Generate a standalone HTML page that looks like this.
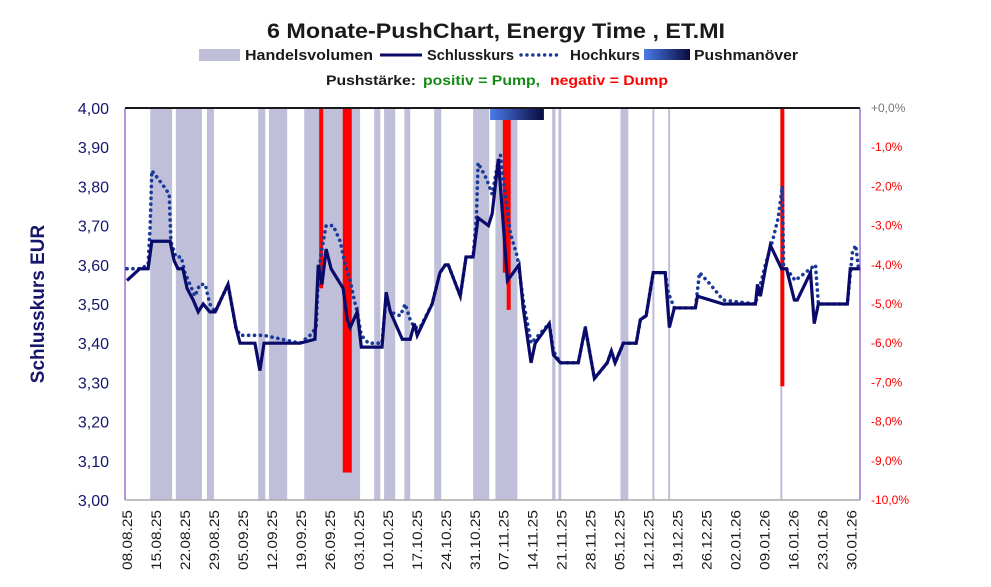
<!DOCTYPE html>
<html><head><meta charset="utf-8"><style>
html,body{margin:0;padding:0;background:#fff;}
svg{display:block;font-family:"Liberation Sans",sans-serif;}
</style></head><body>
<svg id="chart" width="991" height="587" viewBox="0 0 991 587">
<g id="legend">
<text x="496" y="38" text-anchor="middle" font-size="21" font-weight="bold" fill="#1a1a1a" textLength="458" lengthAdjust="spacingAndGlyphs">6 Monate-PushChart, Energy Time , ET.MI</text>
<rect x="199" y="49" width="41" height="12" fill="#bfbfda"/>
<text x="245" y="60" font-size="15" font-weight="bold" fill="#1a1a1a" textLength="128" lengthAdjust="spacingAndGlyphs">Handelsvolumen</text>
<line x1="380" y1="55" x2="422" y2="55" stroke="#0a0a6a" stroke-width="3"/>
<text x="427" y="60" font-size="15" font-weight="bold" fill="#1a1a1a" textLength="87" lengthAdjust="spacingAndGlyphs">Schlusskurs</text>
<line x1="521" y1="55" x2="562" y2="55" stroke="#1a3a9a" stroke-width="3.4" stroke-dasharray="0.1 5.8" stroke-linecap="round"/>
<text x="570" y="60" font-size="15" font-weight="bold" fill="#1a1a1a" textLength="70" lengthAdjust="spacingAndGlyphs">Hochkurs</text>
<defs><linearGradient id="pg" x1="0" x2="1"><stop offset="0" stop-color="#4a7be8"/><stop offset="1" stop-color="#0a0a40"/></linearGradient></defs>
<rect x="644" y="49" width="46" height="11" fill="url(#pg)"/>
<text x="694" y="60" font-size="15" font-weight="bold" fill="#1a1a1a" textLength="104" lengthAdjust="spacingAndGlyphs">Pushmanöver</text>
<text x="326" y="85" font-size="14" font-weight="bold" fill="#1a1a1a" textLength="90" lengthAdjust="spacingAndGlyphs">Pushstärke:</text>
<text x="423" y="85" font-size="14" font-weight="bold" fill="#138a13" textLength="117" lengthAdjust="spacingAndGlyphs">positiv = Pump,</text>
<text x="550" y="85" font-size="14" font-weight="bold" fill="#ff0000" textLength="118" lengthAdjust="spacingAndGlyphs">negativ = Dump</text>
</g>
<text transform="translate(44,304) rotate(-90)" text-anchor="middle" font-size="19" font-weight="bold" fill="#15156a">Schlusskurs EUR</text>
<g id="bands"></g>
<g id="push"></g>
<g id="lines"></g>
<g id="axes"></g>
</svg>
<script>
const volStart=[5.6,11.8,19.3,31.7,34.3,42.8,59.7,62.1,67,74.2,83.6,89,102.7,104.2,119.2,126.9,130.7,157.8];
const volEnd=[10.9,18.1,21,33.4,38.7,56.3,61.2,64.8,68.4,75.9,87.5,94.3,103.5,104.9,121.1,127.4,131.2,158.3];
const closeDays=[0,3.1,5.1,6,10.4,11.4,12.3,13.5,14.5,16,17.2,18.4,20,21.3,24.4,26.3,27.3,30.9,32.1,33.1,35.8,41.8,45.4,46.2,47.1,48.1,49.3,52.2,53.2,53.9,55.6,56.6,61.6,62.6,63.6,66.5,68.4,69.4,70.1,73.7,75.6,76.9,77.6,80.5,81.9,83.6,84.8,87.3,88.2,89.7,91.9,94.7,95.7,97.6,98.6,102,103,104.7,109,110.7,112.9,116,117,117.9,119.9,123,124,125.4,127.1,130,131,132.2,137.3,137.8,144,151.8,152.3,153,154.2,155.4,158.1,159.3,161.2,161.9,165.1,166,167,174,174.7,177.2];
const closeVals=[3.56,3.59,3.59,3.66,3.66,3.61,3.59,3.59,3.54,3.51,3.48,3.50,3.48,3.48,3.55,3.44,3.40,3.40,3.33,3.40,3.40,3.40,3.41,3.60,3.55,3.64,3.59,3.54,3.46,3.44,3.48,3.39,3.39,3.53,3.48,3.41,3.41,3.45,3.42,3.50,3.58,3.60,3.60,3.52,3.62,3.62,3.72,3.70,3.73,3.87,3.56,3.60,3.49,3.35,3.40,3.45,3.37,3.35,3.35,3.44,3.31,3.35,3.38,3.35,3.40,3.40,3.46,3.47,3.58,3.58,3.44,3.49,3.49,3.52,3.50,3.50,3.55,3.52,3.59,3.65,3.59,3.59,3.51,3.51,3.58,3.45,3.50,3.50,3.59,3.59];
const highDays=[0,3.1,5.1,5.6,6,7.5,8.9,10.2,10.6,11.8,13.1,14,16.4,17.6,18.9,20,21.3,24.4,26.3,27.3,33.1,41.8,44.2,45.7,46.2,46.9,48.1,49.8,51.5,52.7,53.9,54.9,55.6,56.6,58.3,61.6,62.6,63.6,66,67.2,68.4,69.4,70.8,73.7,75.6,76.9,77.6,80.5,81.9,83.6,84.4,84.8,86.8,88.2,89.4,90.2,91.1,92.6,94.3,95.7,97.6,102,103,104.7,109,110.7,112.9,116,117,117.9,119.9,123,124,125.4,127.1,130,130.7,132.2,137.3,138.3,140.9,144,151.8,154.2,155.9,157.3,158.3,158.6,161.4,166.3,167,174,175.2,176,176.7];
const highVals=[3.59,3.59,3.60,3.70,3.84,3.82,3.80,3.78,3.66,3.62,3.62,3.58,3.52,3.55,3.55,3.50,3.48,3.55,3.44,3.42,3.42,3.40,3.42,3.44,3.57,3.63,3.70,3.70,3.66,3.60,3.56,3.51,3.48,3.42,3.40,3.40,3.52,3.48,3.47,3.50,3.46,3.44,3.44,3.50,3.58,3.60,3.60,3.52,3.62,3.62,3.72,3.86,3.82,3.78,3.85,3.88,3.80,3.68,3.62,3.51,3.40,3.45,3.38,3.35,3.35,3.44,3.31,3.35,3.38,3.35,3.40,3.40,3.46,3.47,3.58,3.58,3.53,3.49,3.49,3.58,3.55,3.51,3.50,3.60,3.66,3.72,3.80,3.60,3.56,3.60,3.50,3.50,3.63,3.65,3.59];
const pushDays=[46.9,53.2,91.5,92.2,158.3];
const pushPct=[-4.6,-9.3,-4.2,-5.15,-7.1];
const pushManStart=87.7, pushManEnd=100.7;
const yTicks=[4.0,3.9,3.8,3.7,3.6,3.5,3.4,3.3,3.2,3.1,3.0];
const pctTicks=[0,-1,-2,-3,-4,-5,-6,-7,-8,-9,-10];
const xLabels=["08.08.25","15.08.25","22.08.25","29.08.25","05.09.25","12.09.25","19.09.25","26.09.25","03.10.25","10.10.25","17.10.25","24.10.25","31.10.25","07.11.25","14.11.25","21.11.25","28.11.25","05.12.25","12.12.25","19.12.25","26.12.25","02.01.26","09.01.26","16.01.26","23.01.26","30.01.26"];

const NS="http://www.w3.org/2000/svg";
const L=125,R=860,T=108,B=500;
const xs=d=>127+d*4.14;
const ys=v=>T+(4-v)*(B-T)/1.0;
const yp=p=>T+(-p)*(B-T)/10;
function mk(tag,attrs,parent){const e=document.createElementNS(NS,tag);for(const k in attrs)e.setAttribute(k,attrs[k]);parent.appendChild(e);return e;}
const gB=document.getElementById('bands'),gP=document.getElementById('push'),gL=document.getElementById('lines'),gA=document.getElementById('axes');
volStart.forEach((s,i)=>{
  const r=mk('rect',{x:xs(s),y:T,width:Math.max(1,xs(volEnd[i])-xs(s)),height:B-T,fill:'#bfbfda'},gB);
  
  
});
pushDays.forEach((d,i)=>{
  const w=i==1?9:(i==2?6:4);
  const r=mk('rect',{x:xs(d)-w/2,y:T,width:w,height:yp(pushPct[i])-T,fill:'#ff0000'},gP);
  
  
});
const pm=mk('rect',{x:xs(pushManStart),y:T,width:xs(pushManEnd)-xs(pushManStart),height:12,fill:'url(#pg)'},gP);


const hp=mk('polyline',{points:highDays.map((d,i)=>xs(d)+','+ys(highVals[i])).join(' '),fill:'none',stroke:'#1a3a9a','stroke-width':3.6,'stroke-dasharray':'0.1 5.8','stroke-linecap':'round'},gL);


const cp=mk('polyline',{points:closeDays.map((d,i)=>xs(d)+','+ys(closeVals[i])).join(' '),fill:'none',stroke:'#0a0a6a','stroke-width':3.2,'stroke-linejoin':'miter'},gL);


const topBorder=mk('line',{x1:L,y1:T,x2:R,y2:T,stroke:'#1a1a1a','stroke-width':2},gA);


const la=mk('line',{x1:L,y1:T,x2:L,y2:B,stroke:'#6a2fc0','stroke-width':1},gA);


const ra=mk('line',{x1:R,y1:T,x2:R,y2:B,stroke:'#6a2fc0','stroke-width':1},gA);


const xa=mk('line',{x1:L,y1:B,x2:R,y2:B,stroke:'#aaaaaa','stroke-width':1.5},gA);


yTicks.forEach(v=>{
  const t=mk('text',{x:109,y:ys(v)+6,'text-anchor':'end','font-size':16,fill:'#15156a'},gA);
  t.textContent=v.toFixed(2).replace('.',',');
  
  
});
pctTicks.forEach(p=>{
  const t=mk('text',{x:871,y:yp(p)+4,'font-size':12,fill:p===0?'#777777':'#ff0000'},gA);
  t.textContent=(p===0?'+':'')+p.toFixed(1).replace('.',',')+'%';
  
  
});
xLabels.forEach((s,i)=>{
  const x=xs(i*7)+5;
  const t=mk('text',{transform:'translate('+x+',570) rotate(-90)','font-size':14,fill:'#1a1a1a',textLength:60,lengthAdjust:'spacingAndGlyphs'},gA);
  t.textContent=s;
  
  
});
</script>
</body></html>
